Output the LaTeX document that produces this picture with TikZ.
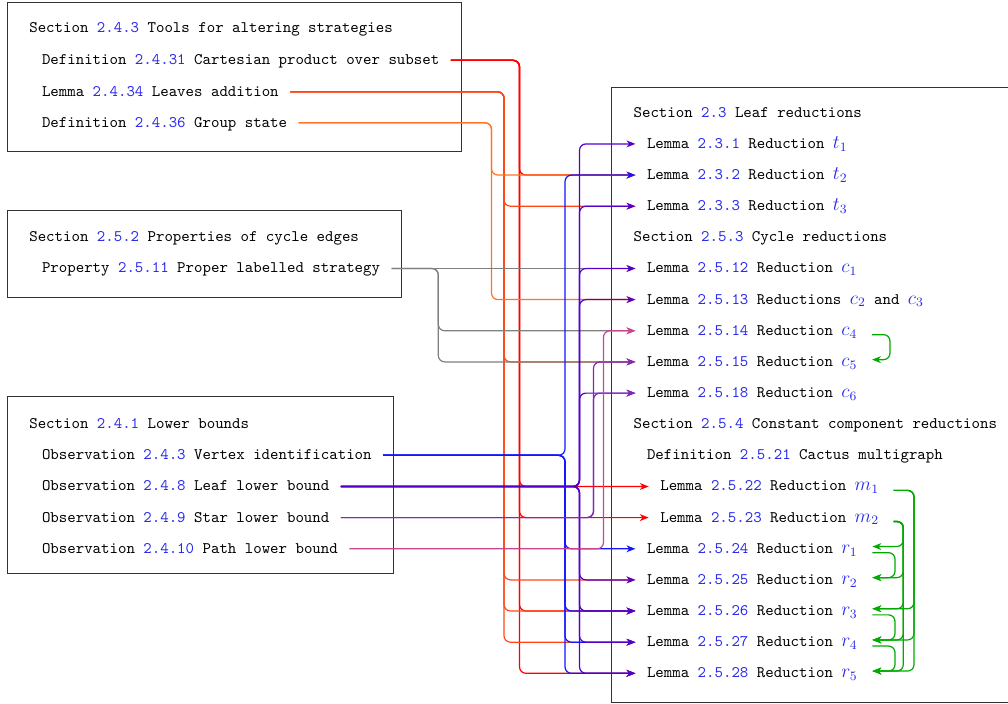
\documentclass[tikz,border=0pt]{standalone}
\usetikzlibrary{arrows.meta}
\definecolor{refblue}{RGB}{40,40,235}
\definecolor{cAone}{RGB}{255,0,0}
\definecolor{cAtwo}{RGB}{255,72,20}
\definecolor{cAthree}{RGB}{255,115,35}
\definecolor{cP}{RGB}{128,128,128}
\definecolor{cOone}{RGB}{20,20,255}
\definecolor{cOtwo}{RGB}{85,0,200}
\definecolor{cOthree}{RGB}{130,40,180}
\definecolor{cOfour}{RGB}{200,70,140}
\definecolor{cG}{RGB}{0,170,0}
\newcommand\rf[1]{\textcolor{refblue}{#1}}
\newcommand\rmth[1]{\textcolor{refblue}{\fontsize{11.5pt}{13pt}\selectfont$#1$}}
\begin{document}
\begin{tikzpicture}[x=0.6212pt,y=-0.6212pt,
  txt/.style={anchor=west,xshift=-7pt,inner xsep=7pt,inner ysep=0pt,text height=6.5pt,text depth=1pt,font=\ttfamily},
  frame/.style={draw=black!80,line width=0.7pt},
  edge/.style={line width=0.75pt,rounded corners=4pt,-{Stealth[length=5.5pt,width=4.2pt,inset=1.6pt]}},
  gedge/.style={edge,cG}]
\useasboundingbox (0,0) rectangle (1008,704);
% frames
\draw[frame] (7.3,2.3) rectangle (461.7,151.7);
\draw[frame] (7.3,210.7) rectangle (401.7,297.3);
\draw[frame] (7.3,396.7) rectangle (393.3,573.3);
\draw[frame] (611.7,87.3) rectangle (1015,702.7);
% left texts
\node[txt] (sA) at (29,28.3) {Section \rf{2.4.3} Tools for altering strategies};
\node[txt] (a1) at (41.7,60.3) {Definition \rf{2.4.31} Cartesian product over subset};
\node[txt] (a2) at (41.7,91.8) {Lemma \rf{2.4.34} Leaves addition};
\node[txt] (a3) at (41.7,122.8) {Definition \rf{2.4.36} Group state};
\node[txt] (sP) at (29,237.4) {Section \rf{2.5.2} Properties of cycle edges};
\node[txt] (p) at (41.7,268.5) {Property \rf{2.5.11} Proper labelled strategy};
\node[txt] (sO) at (29,424.2) {Section \rf{2.4.1} Lower bounds};
\node[txt] (o1) at (41.7,455.3) {Observation \rf{2.4.3} Vertex identification};
\node[txt] (o2) at (41.7,486.5) {Observation \rf{2.4.8} Leaf lower bound};
\node[txt] (o3) at (41.7,517.6) {Observation \rf{2.4.9} Star lower bound};
\node[txt] (o4) at (41.7,548.8) {Observation \rf{2.4.10} Path lower bound};
% right texts
\node[txt] (sR1) at (633.3,112.8) {Section \rf{2.3} Leaf reductions};
\node[txt] (t1) at (646.7,143.9) {Lemma \rf{2.3.1} Reduction \rmth{t_1}};
\node[txt] (t2) at (646.7,175.1) {Lemma \rf{2.3.2} Reduction \rmth{t_2}};
\node[txt] (t3) at (646.7,206.2) {Lemma \rf{2.3.3} Reduction \rmth{t_3}};
\node[txt] (sR2) at (633.3,237.4) {Section \rf{2.5.3} Cycle reductions};
\node[txt] (c1) at (646.7,268.5) {Lemma \rf{2.5.12} Reduction \rmth{c_1}};
\node[txt] (c23) at (646.7,299.6) {Lemma \rf{2.5.13} Reductions \rmth{c_2} and \rmth{c_3}};
\node[txt] (c4) at (646.7,330.8) {Lemma \rf{2.5.14} Reduction \rmth{c_4}};
\node[txt] (c5) at (646.7,361.9) {Lemma \rf{2.5.15} Reduction \rmth{c_5}};
\node[txt] (c6) at (646.7,393.1) {Lemma \rf{2.5.18} Reduction \rmth{c_6}};
\node[txt] (sR3) at (633.3,424.2) {Section \rf{2.5.4} Constant component reductions};
\node[txt] (d) at (646.7,455.3) {Definition \rf{2.5.21} Cactus multigraph};
\node[txt] (m1) at (660,486.5) {Lemma \rf{2.5.22} Reduction \rmth{m_1}};
\node[txt] (m2) at (660,517.6) {Lemma \rf{2.5.23} Reduction \rmth{m_2}};
\node[txt] (r1) at (646.7,548.8) {Lemma \rf{2.5.24} Reduction \rmth{r_1}};
\node[txt] (r2) at (646.7,579.9) {Lemma \rf{2.5.25} Reduction \rmth{r_2}};
\node[txt] (r3) at (646.7,611.0) {Lemma \rf{2.5.26} Reduction \rmth{r_3}};
\node[txt] (r4) at (646.7,642.2) {Lemma \rf{2.5.27} Reduction \rmth{r_4}};
\node[txt] (r5) at (646.7,673.3) {Lemma \rf{2.5.28} Reduction \rmth{r_5}};
% trunk positions
\coordinate (xA1) at (519.5,0);
\coordinate (xA2) at (504,0);
\coordinate (xA3) at (491.5,0);
\coordinate (xP) at (438.3,0);
\coordinate (xO1) at (565,0);
\coordinate (xO2) at (579.5,0);
\coordinate (xO3) at (593.5,0);
\coordinate (xO4) at (603.5,0);
\coordinate (xg1) at (890,0);
\coordinate (xgr) at (895,0);
\coordinate (xm2) at (903.3,0);
\coordinate (xm1) at (914,0);
% green anchors
\foreach \n in {c4,c5,m1,m2,r1,r2,r3,r4,r5}{
  \coordinate (\n-o) at ([xshift=2pt,yshift=-2.4pt]\n.east);
  \coordinate (\n-i) at ([xshift=2pt,yshift=1.4pt]\n.east);
}
% A1
\foreach \t in {t2,m1,m2,r3,r5}
  \draw[edge,cAone] (a1.east) -- (a1.east -| xA1) |- (\t.west);
% A2
\foreach \t in {t3,c5,r2,r3,r4}
  \draw[edge,cAtwo] (a2.east) -- (a2.east -| xA2) |- (\t.west);
% A3
\foreach \t in {t2,c23}
  \draw[edge,cAthree] (a3.east) -- (a3.east -| xA3) |- (\t.west);
% P
\draw[edge,cP] (p.east) -- (c1.west);
\foreach \t in {c4,c5}
  \draw[edge,cP] (p.east) -- (p.east -| xP) |- (\t.west);
% O1
\foreach \t in {t2,r1,r3,r4,r5}
  \draw[edge,cOone] (o1.east) -- (o1.east -| xO1) |- (\t.west);
% O2
\foreach \t in {t1,t3,c1,c23,c6,r2,r3,r4,r5}
  \draw[edge,cOtwo] (o2.east) -- (o2.east -| xO2) |- (\t.west);
% O3
\foreach \t in {c5,c6}
  \draw[edge,cOthree] (o3.east) -- (o3.east -| xO3) |- (\t.west);
% O4
\draw[edge,cOfour] (o4.east) -- (o4.east -| xO4) |- (c4.west);
% green
\draw[gedge] (c4-o) -- (c4-o -| xg1) |- (c5-i);
\foreach \t in {r3,r4,r5}
  \draw[gedge] (m1-o) -- (m1-o -| xm1) |- (\t-i);
\foreach \t in {r1,r2,r3,r4,r5}
  \draw[gedge] (m2-o) -- (m2-o -| xm2) |- (\t-i);
\draw[gedge] (r1-o) -- (r1-o -| xgr) |- (r2-i);
\draw[gedge] (r3-o) -- (r3-o -| xgr) |- (r4-i);
\draw[gedge] (r4-o) -- (r4-o -| xgr) |- (r5-i);
\end{tikzpicture}
\end{document}
